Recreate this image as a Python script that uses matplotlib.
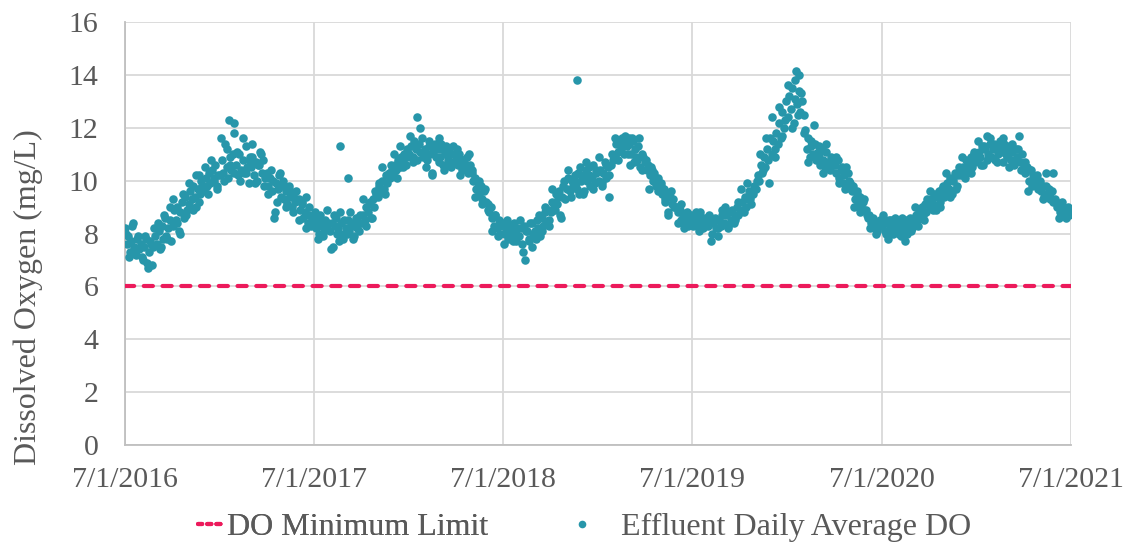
import numpy as np
import pandas as pd
import matplotlib
matplotlib.use("Agg")
from matplotlib import pyplot as plt
from matplotlib.lines import Line2D

plt.rcParams['font.family'] = ['Liberation Serif', 'DejaVu Serif']

# daily average DO, ten readings per month (about every 3 days), Jul 2016 - Jun 2021
do_2016_17 = [
    [8.2, 7.6, 7.9, 7.3, 7.7, 8.4, 7.5, 7.2, 7.8, 7.4],
    [7.6, 7.0, 7.5, 7.8, 6.9, 7.3, 7.7, 6.8, 7.5, 7.9],
    [7.6, 8.1, 7.4, 8.3, 7.8, 8.6, 7.9, 8.2, 8.5, 7.7],
    [8.3, 8.9, 8.5, 9.0, 8.1, 8.8, 9.2, 8.6, 9.4, 8.9],
    [9.1, 9.6, 9.3, 9.8, 9.4, 9.0, 9.7, 9.5, 10.0, 9.6],
    [9.7, 10.1, 9.8, 10.3, 9.9, 10.4, 10.0, 10.6, 9.8, 10.2],
    [10.2, 10.8, 10.3, 11.4, 10.5, 10.1, 10.9, 10.4, 11.0, 10.3],
    [10.6, 10.2, 11.0, 10.4, 10.8, 10.3, 11.3, 10.5, 9.9, 10.7],
    [10.5, 10.9, 10.2, 10.7, 10.0, 10.6, 11.1, 10.3, 10.8, 10.1],
    [10.3, 9.8, 10.1, 9.6, 10.0, 8.8, 9.9, 9.7, 10.2, 9.4],
    [9.8, 9.3, 9.6, 9.1, 9.7, 9.4, 9.0, 9.5, 9.2, 9.6],
    [9.3, 8.9, 9.1, 8.6, 8.8, 9.4, 8.4, 8.7, 8.3, 8.5],
]
do_2017_18 = [
    [8.6, 8.2, 8.4, 8.0, 8.7, 8.3, 7.9, 8.5, 8.2, 8.4],
    [8.1, 8.4, 7.5, 8.3, 8.6, 8.2, 7.7, 8.4, 8.0, 8.5],
    [8.2, 8.5, 8.1, 8.4, 8.3, 7.9, 8.6, 8.2, 8.4, 8.7],
    [8.4, 8.7, 8.5, 9.0, 8.8, 9.2, 8.6, 9.3, 9.0, 9.5],
    [9.4, 9.8, 9.6, 10.0, 9.7, 10.2, 9.9, 10.3, 10.1, 10.4],
    [10.2, 10.6, 10.4, 10.8, 10.5, 10.9, 10.7, 11.0, 10.6, 11.2],
    [11.0, 11.3, 10.9, 11.5, 11.2, 10.8, 11.4, 11.1, 11.6, 11.0],
    [11.2, 10.8, 11.3, 11.0, 10.3, 11.1, 11.4, 10.9, 11.2, 10.7],
    [10.9, 11.2, 10.6, 11.0, 11.3, 10.8, 11.1, 10.5, 11.0, 10.7],
    [10.9, 10.6, 11.0, 10.7, 10.4, 10.8, 10.5, 10.9, 10.3, 10.6],
    [10.3, 10.0, 10.1, 9.7, 9.9, 9.5, 9.8, 9.3, 9.6, 9.2],
    [9.1, 8.8, 9.0, 8.6, 8.3, 8.7, 8.2, 8.5, 8.0, 8.3],
]
do_2018_19 = [
    [8.4, 8.0, 8.2, 7.8, 8.3, 8.1, 7.7, 8.4, 8.0, 8.2],
    [7.9, 8.2, 7.6, 8.3, 7.0, 8.1, 7.8, 8.4, 7.5, 8.0],
    [8.1, 8.5, 8.2, 7.9, 8.6, 8.3, 8.8, 8.4, 8.9, 8.5],
    [8.8, 9.2, 9.0, 9.5, 9.1, 9.6, 8.7, 9.4, 9.8, 9.3],
    [9.7, 10.1, 9.6, 10.0, 9.8, 10.2, 9.9, 10.3, 9.5, 10.0],
    [10.2, 9.6, 10.4, 10.0, 10.5, 9.8, 10.1, 10.6, 9.9, 10.3],
    [10.0, 10.4, 9.8, 10.3, 10.7, 10.1, 10.5, 9.4, 10.6, 10.8],
    [10.9, 11.4, 11.1, 11.5, 11.2, 11.6, 11.0, 11.5, 11.3, 11.6],
    [11.4, 11.0, 11.6, 10.7, 11.2, 10.8, 11.3, 10.5, 11.0, 10.9],
    [10.7, 10.4, 10.6, 10.2, 10.5, 10.0, 10.3, 9.8, 10.1, 9.9],
    [9.8, 9.5, 9.7, 9.3, 9.5, 8.7, 9.4, 9.1, 9.3, 9.0],
    [9.0, 8.8, 8.9, 8.5, 8.7, 8.4, 8.6, 8.3, 8.5, 8.7],
]
do_2019_20 = [
    [8.6, 8.4, 8.7, 8.3, 8.5, 8.8, 8.4, 8.2, 8.6, 8.5],
    [8.3, 8.6, 7.7, 8.4, 8.5, 8.2, 7.9, 8.5, 8.3, 8.7],
    [8.4, 8.7, 8.3, 8.8, 8.5, 8.9, 8.4, 8.6, 9.0, 8.7],
    [8.8, 9.2, 8.9, 9.4, 9.0, 9.3, 9.6, 9.1, 9.5, 9.8],
    [9.7, 10.2, 10.0, 10.6, 10.3, 10.9, 10.5, 11.2, 10.8, 11.6],
    [11.0, 11.5, 10.9, 11.8, 11.4, 12.2, 11.6, 12.6, 12.0, 13.0],
    [12.4, 13.2, 12.7, 13.5, 12.2, 13.8, 12.9, 13.4, 12.6, 13.0],
    [12.5, 11.9, 11.2, 11.6, 10.9, 11.3, 11.0, 11.4, 10.8, 11.1],
    [11.0, 10.6, 11.2, 10.8, 10.5, 11.4, 10.7, 10.4, 10.9, 10.6],
    [10.6, 10.3, 10.8, 10.1, 10.4, 9.9, 10.2, 10.5, 9.8, 10.0],
    [9.9, 9.6, 9.8, 9.3, 9.5, 9.1, 9.4, 9.0, 9.2, 8.9],
    [8.9, 8.6, 8.7, 8.4, 8.5, 8.2, 8.4, 8.1, 8.3, 8.5],
]
do_2020_21 = [
    [8.3, 8.6, 8.1, 8.4, 7.8, 8.2, 8.5, 8.0, 8.3, 8.4],
    [8.2, 8.4, 7.9, 8.3, 8.1, 8.5, 8.0, 8.3, 8.6, 8.2],
    [8.4, 8.7, 8.5, 8.9, 8.6, 9.0, 8.7, 9.1, 8.8, 9.2],
    [9.0, 9.3, 9.1, 9.5, 8.9, 9.4, 9.6, 9.2, 9.7, 9.4],
    [9.6, 9.9, 9.7, 10.1, 9.5, 10.0, 10.3, 9.8, 10.2, 10.4],
    [10.2, 10.5, 10.3, 10.8, 10.4, 10.6, 10.9, 10.5, 11.0, 10.7],
    [10.8, 11.1, 10.9, 11.3, 10.6, 11.2, 11.7, 11.0, 11.4, 10.9],
    [11.2, 10.8, 11.3, 11.0, 11.5, 11.1, 10.7, 11.4, 11.0, 11.2],
    [11.0, 11.3, 10.8, 11.1, 10.6, 11.2, 10.9, 11.7, 10.7, 11.0],
    [10.6, 10.3, 10.5, 10.0, 10.4, 9.8, 10.2, 9.9, 10.1, 9.7],
    [9.9, 9.6, 9.8, 9.4, 10.3, 9.5, 9.7, 9.3, 9.6, 9.2],
    [9.3, 9.0, 9.1, 8.8, 9.2, 8.7, 8.9, 8.6, 9.0, 8.7],
]

# five more readings per month, in between the ones above (Jul 2016 - Jun 2021)
do_between = [
    [8.0, 7.1, 8.3, 7.4, 7.9], [7.1, 7.9, 6.7, 7.6, 8.2], [8.4, 7.5, 8.7, 7.8, 9.0],
    [9.3, 8.4, 8.0, 9.5, 8.7], [9.9, 8.9, 10.2, 9.2, 9.8], [10.5, 9.5, 10.8, 10.1, 9.7],
    [11.6, 10.0, 11.2, 10.6, 11.8], [11.1, 10.0, 11.6, 10.3, 10.9], [11.4, 9.9, 10.6, 11.0, 9.8],
    [9.5, 10.4, 8.6, 9.2, 10.3], [10.0, 9.0, 9.8, 8.8, 9.3], [8.5, 9.2, 8.2, 9.0, 8.6],
    [8.8, 7.8, 8.5, 8.1, 8.9], [7.4, 8.7, 8.0, 8.8, 7.8], [8.0, 8.8, 7.8, 8.5, 8.1],
    [9.3, 8.3, 9.1, 8.6, 9.6], [9.9, 10.5, 9.5, 10.2, 10.6], [11.0, 10.1, 11.3, 10.5, 10.9],
    [11.7, 10.7, 11.4, 12.0, 10.9], [10.5, 11.5, 10.2, 11.3, 11.6], [11.4, 10.4, 11.1, 10.6, 11.3],
    [11.2, 10.2, 10.8, 10.4, 11.0], [10.4, 9.4, 10.0, 9.1, 9.7], [8.9, 8.1, 8.7, 7.9, 8.4],
    [7.6, 8.5, 7.9, 8.3, 7.7], [8.5, 7.3, 8.1, 7.7, 8.4], [7.8, 8.7, 8.1, 9.0, 8.3],
    [9.7, 8.9, 9.4, 8.6, 10.0], [10.4, 9.4, 10.1, 9.7, 10.5], [9.5, 10.7, 10.2, 9.7, 10.4],
    [10.9, 9.9, 10.6, 10.2, 11.0], [11.6, 10.8, 11.4, 11.7, 11.0], [10.6, 11.5, 10.9, 11.6, 10.4],
    [10.8, 9.7, 10.4, 10.0, 9.6], [9.9, 9.2, 8.8, 9.6, 9.0], [8.4, 9.1, 8.2, 8.8, 8.6],
    [8.3, 8.8, 8.1, 8.6, 8.4], [8.7, 8.0, 8.6, 8.2, 8.9], [9.0, 8.2, 8.8, 8.5, 9.2],
    [9.7, 8.8, 9.9, 9.3, 9.5], [10.0, 11.0, 10.4, 11.6, 9.9], [12.4, 11.2, 12.8, 11.7, 12.3],
    [13.6, 12.0, 13.1, 12.5, 13.3], [11.8, 10.7, 11.5, 12.1, 10.9], [11.3, 10.3, 11.1, 10.5, 10.8],
    [10.9, 9.9, 10.5, 9.7, 10.3], [9.7, 9.0, 9.6, 8.8, 9.3], [8.7, 8.2, 8.6, 8.0, 8.4],
    [8.7, 8.0, 8.5, 8.2, 8.6], [8.0, 8.6, 7.7, 8.4, 8.1], [9.0, 8.3, 8.9, 8.5, 9.3],
    [9.6, 8.9, 9.5, 9.0, 9.8], [10.3, 9.4, 10.1, 9.7, 10.5], [10.9, 10.1, 10.7, 10.3, 11.1],
    [11.5, 10.6, 11.3, 10.8, 11.6], [11.4, 10.7, 11.2, 11.6, 10.9], [10.5, 11.4, 10.8, 11.2, 10.4],
    [10.7, 9.6, 10.4, 9.9, 10.2], [10.0, 9.3, 9.8, 9.4, 10.3], [9.2, 8.6, 9.0, 8.7, 8.8],
]

# isolated readings away from the seasonal band
outlier_dates = ["2016-11-20", "2017-01-18", "2017-01-28", "2017-08-20", "2017-09-05",
                 "2018-01-15", "2018-11-20", "2020-01-18", "2020-01-22"]
outlier_do = [10.2, 12.3, 12.2, 11.3, 10.1, 12.4, 13.8, 14.15, 14.0]

do_limit = 6.0
tick_years = [2016, 2017, 2018, 2019, 2020, 2021]

months = pd.date_range("2016-07-01", periods=60, freq="MS")
rows = do_2016_17 + do_2017_18 + do_2018_19 + do_2019_20 + do_2020_21
dates, values = [], []
for start, row, extra in zip(months, rows, do_between):
    for i, v in enumerate(row):
        dates.append(start + pd.Timedelta(days=3 * i))
        values.append(v)
    for i, v in enumerate(extra):
        dates.append(start + pd.Timedelta(days=1.5 + 6 * i))
        values.append(v)
dates += list(pd.to_datetime(outlier_dates))
values += outlier_do

teal = "#2796AA"
red = "#EC1A5B"
grey = "#595959"

fig = plt.figure(figsize=(11.33, 5.5), dpi=100)
ax = fig.add_axes([0.1103, 0.1909, 0.835, 0.769])

x0 = pd.Timestamp("2016-07-01")
x1 = pd.Timestamp("2021-07-01")
ax.plot([x0, x1], [do_limit, do_limit], color=red, linewidth=3.0,
        dashes=(2.2, 2.3), dash_capstyle="round", zorder=3)
ax.scatter(dates, values, s=38, color=teal, linewidths=0, zorder=4)

ax.set_xlim(x0, x1)
ax.set_ylim(0, 16)
ax.set_yticks(range(0, 17, 2))
ax.set_xticks([pd.Timestamp(f"{y}-07-01") for y in tick_years])
ax.set_xticklabels([f"7/1/{y}" for y in tick_years])
ax.grid(True, color="#D9D9D9", linewidth=1.3)
ax.set_axisbelow(True)
for s in ["top", "right"]:
    ax.spines[s].set_visible(False)
for s in ["left", "bottom"]:
    ax.spines[s].set_color("#BFBFBF")
    ax.spines[s].set_linewidth(1.3)
ax.tick_params(length=0, labelsize=21.5, colors=grey)
ax.tick_params(axis="y", pad=19)
ax.tick_params(axis="x", pad=16)
ax.set_ylabel("Dissolved Oxygen (mg/L)", fontsize=23, color=grey)
ax.yaxis.set_label_coords(-0.0867, 0.349)

h1 = Line2D([], [], color=red, linewidth=3.0, dashes=(1.0, 1.2), dash_capstyle="round")
h2 = Line2D([], [], color=teal, linestyle="none", marker="o", markersize=5.5,
            markeredgewidth=0)
leg1 = fig.legend([h1], ["DO Minimum Limit"], loc="center left",
                  bbox_to_anchor=(198 / 1133, 1 - 527 / 550), frameon=False,
                  fontsize=23, labelcolor=grey, handlelength=0.75,
                  handletextpad=0.15, borderpad=0, borderaxespad=0)
leg2 = fig.legend([h2], ["Effluent Daily Average DO"], loc="center left",
                  bbox_to_anchor=(570 / 1133, 1 - 527 / 550), frameon=False,
                  fontsize=23, labelcolor=grey, handlelength=0.75,
                  handletextpad=0.85, borderpad=0, borderaxespad=0)
fig.add_artist(leg1)

fig.savefig("out.png", dpi=100)
